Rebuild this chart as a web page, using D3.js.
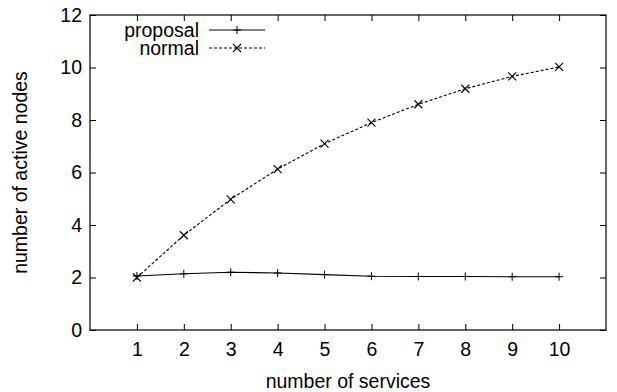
<!DOCTYPE html>
<html>
<head>
<meta charset="utf-8">
<script src="https://cdn.jsdelivr.net/npm/d3@7"></script>
<style>
  html, body { margin: 0; padding: 0; background: #fff; }
  svg { display: block; }
  text { font-family: "Liberation Sans", Arial, Helvetica, sans-serif; fill: #000; }
</style>
</head>
<body>
<svg id="chart" width="617" height="392"></svg>
<script>
// Number of services on the x axis
const services = [1, 2, 3, 4, 5, 6, 7, 8, 9, 10];
// Active nodes per scheme
const proposal = [2.06, 2.14, 2.2, 2.17, 2.11, 2.05, 2.04, 2.04, 2.03, 2.03];
const normal = [2.0, 3.61, 4.98, 6.13, 7.1, 7.9, 8.6, 9.19, 9.66, 10.02];
const xTicks = [1, 2, 3, 4, 5, 6, 7, 8, 9, 10];
const yTicks = [0, 2, 4, 6, 8, 10, 12];
const seriesNames = ["proposal", "normal"];

const svg = d3.select("#chart");
const m = { left: 90, right: 11, top: 15, bottom: 62 };
const W = 617, H = 392;
const x = d3.scaleLinear().domain([0, 11]).range([m.left, W - m.right]);
const y = d3.scaleLinear().domain([0, 12]).range([H - m.bottom, m.top]);

const tickLen = 6;
const fs = 19.5;

// frame with inward ticks on all four sides
const axB = d3.axisBottom(x).tickValues(xTicks).tickSizeInner(-tickLen).tickSizeOuter(0).tickPadding(12);
const axT = d3.axisTop(x).tickValues(xTicks).tickSizeInner(-tickLen).tickSizeOuter(0).tickFormat("");
const axL = d3.axisLeft(y).tickValues(yTicks).tickSizeInner(-tickLen).tickSizeOuter(0).tickPadding(8);
const axR = d3.axisRight(y).tickValues(yTicks).tickSizeInner(-tickLen).tickSizeOuter(0).tickFormat("");

function style(g) {
  g.select(".domain").remove();
  g.selectAll(".tick line").attr("stroke", "#000").attr("stroke-width", 1);
  g.selectAll(".tick text").attr("font-size", fs).attr("font-family", "Liberation Sans, Arial, sans-serif").attr("fill", "#000");
}
svg.append("g").attr("transform", `translate(0,${y(0)})`).call(axB).call(style);
svg.append("g").attr("transform", `translate(0,${y(12)})`).call(axT).call(style);
svg.append("g").attr("transform", `translate(${x(0)},0)`).call(axL).call(style);
svg.append("g").attr("transform", `translate(${x(11)},0)`).call(axR).call(style);

svg.append("rect")
  .attr("x", x(0)).attr("y", y(12))
  .attr("width", x(11) - x(0)).attr("height", y(0) - y(12))
  .attr("fill", "none").attr("stroke", "#000").attr("stroke-width", 1.2);

// axis titles
svg.append("text")
  .attr("x", (x(0) + x(11)) / 2).attr("y", 388)
  .attr("text-anchor", "middle").attr("font-size", fs)
  .text("number of services");
svg.append("text")
  .attr("transform", `translate(27,${(y(0) + y(12)) / 2}) rotate(-90)`)
  .attr("text-anchor", "middle").attr("font-size", fs)
  .text("number of active nodes");

const line = d3.line().x((d, i) => x(services[i])).y(d => y(d));

// markers
function plus(g, cx, cy) {
  g.append("path").attr("d", `M${cx - 4},${cy}H${cx + 4}M${cx},${cy - 4}V${cy + 4}`)
    .attr("stroke", "#000").attr("stroke-width", 1).attr("fill", "none");
}
function cross(g, cx, cy) {
  g.append("path").attr("d", `M${cx - 4},${cy - 4}L${cx + 4},${cy + 4}M${cx - 4},${cy + 4}L${cx + 4},${cy - 4}`)
    .attr("stroke", "#000").attr("stroke-width", 1.1).attr("fill", "none");
}

const series = [
  { name: seriesNames[0], values: proposal, dash: null, marker: plus },
  { name: seriesNames[1], values: normal, dash: "3,2", marker: cross }
];

series.forEach((s, k) => {
  const g = svg.append("g");
  g.append("path").datum(s.values)
    .attr("d", line).attr("fill", "none").attr("stroke", "#000")
    .attr("stroke-width", 1.1).attr("stroke-dasharray", s.dash);
  s.values.forEach((v, i) => s.marker(g, x(services[i]), y(v)));

  // legend entry
  const ly = 30 + k * 18;
  svg.append("text").attr("x", 199).attr("y", ly).attr("dy", "0.35em")
    .attr("text-anchor", "end").attr("font-size", fs).text(s.name);
  svg.append("line").attr("x1", 209).attr("x2", 265).attr("y1", ly).attr("y2", ly)
    .attr("stroke", "#000").attr("stroke-width", 1.1).attr("stroke-dasharray", s.dash);
  s.marker(svg, 237, ly);
});
</script>
</body>
</html>
